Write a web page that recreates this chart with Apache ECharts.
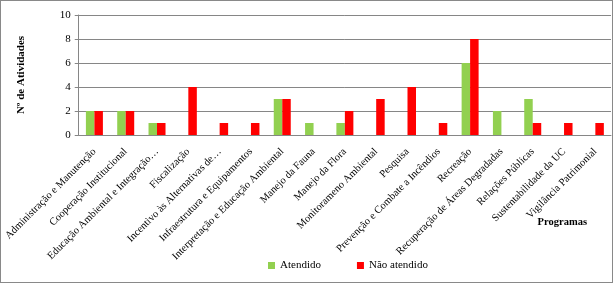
<!DOCTYPE html>
<html>
<head>
<meta charset="utf-8">
<script src="https://cdn.jsdelivr.net/npm/echarts@6/dist/echarts.min.js"></script>
<style>
  html, body { margin: 0; padding: 0; background: #fff; }
  #main { width: 613px; height: 283px; box-sizing: border-box; border: 1px solid #898989; }
</style>
</head>
<body>
<div id="main"></div>
<script>
// programas (eixo x)
var programas = [
  'Administração e Manutenção', 'Cooperação Institucional', 'Educação Ambiental e Integração…',
  'Fiscalização', 'Incentivo às Alternativas de…', 'Infraestrutura e Equipamentos',
  'Interpretação e Educação Ambiental', 'Manejo da Fauna', 'Manejo da Flora',
  'Monitorameno Ambiental', 'Pesquisa', 'Prevenção e Combate a Incêndios', 'Recreação',
  'Recuperação de Áreas Degradadas', 'Relações Públicas', 'Sustentabilidade da UC',
  'Vigilância Patrimonial'
];
var atendido    = [2, 2, 1, 0, 0, 0, 3, 1, 1, 0, 0, 0, 6, 2, 3, 0, 0];
var naoAtendido = [2, 2, 1, 4, 1, 1, 3, 0, 2, 3, 4, 1, 8, 0, 1, 1, 1];

var fonte = 'Liberation Serif';
var myChart = echarts.init(document.getElementById('main'));

var option = {
  animation: false,
  textStyle: { fontFamily: fonte },
  grid: { left: 77, right: 1, top: 14, bottom: 147, containLabel: false },
  legend: {
    bottom: 6,
    left: 262,
    itemWidth: 7,
    itemHeight: 7,
    itemGap: 36,
    icon: 'rect',
    textStyle: { fontFamily: fonte, fontSize: 11, color: '#000' },
    data: ['Atendido', 'Não atendido']
  },
  xAxis: {
    type: 'category',
    data: programas,
    name: 'Programas',
    nameLocation: 'end',
    nameGap: 0,
    nameTextStyle: {
      fontFamily: fonte, fontSize: 10.5, fontWeight: 'bold', color: '#000',
      align: 'right', verticalAlign: 'top', padding: [82, 24, 0, 0]
    },
    axisLine: { lineStyle: { color: '#868686' } },
    axisTick: { length: 4, lineStyle: { color: '#868686' } },
    axisLabel: { rotate: 45, fontSize: 10.5, color: '#000', margin: 15, interval: 0, fontFamily: fonte }
  },
  yAxis: {
    type: 'value',
    min: 0,
    max: 10,
    interval: 2,
    name: 'Nº de Atividades',
    nameLocation: 'middle',
    nameGap: 52,
    nameRotate: 90,
    nameTextStyle: { fontFamily: fonte, fontSize: 11, fontWeight: 'bold', color: '#000' },
    axisLine: { show: true, lineStyle: { color: '#868686' } },
    axisTick: { show: true, length: 4, lineStyle: { color: '#868686' } },
    axisLabel: { fontSize: 11, color: '#000', margin: 8, fontFamily: fonte },
    splitLine: { lineStyle: { color: '#868686' } }
  },
  series: [
    {
      name: 'Atendido',
      type: 'bar',
      data: atendido,
      barWidth: 8.5,
      barGap: '0%',
      itemStyle: { color: '#92D050' }
    },
    {
      name: 'Não atendido',
      type: 'bar',
      data: naoAtendido,
      barWidth: 8.5,
      barGap: '0%',
      itemStyle: { color: '#FF0000' }
    }
  ]
};

myChart.setOption(option);
</script>
</body>
</html>
